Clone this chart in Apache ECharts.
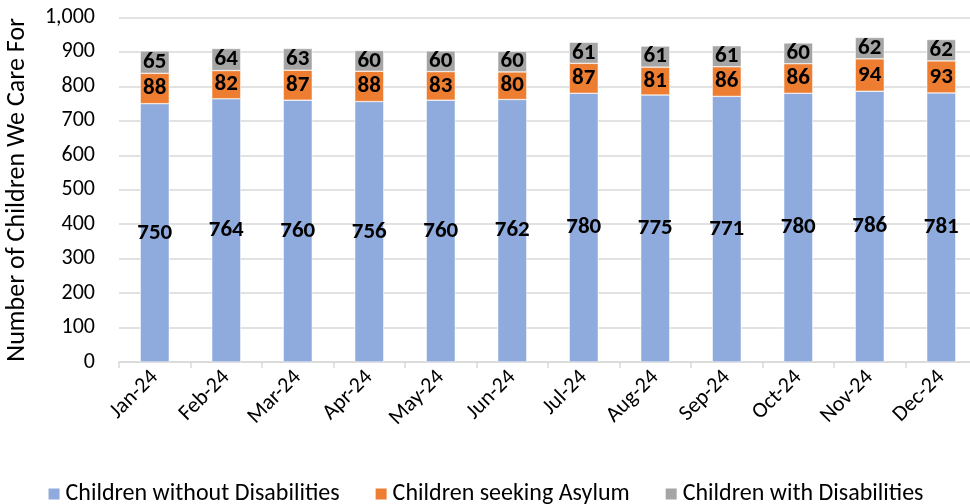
<!DOCTYPE html>
<html>
<head>
<meta charset="utf-8">
<script src="https://cdn.jsdelivr.net/npm/echarts@6/dist/echarts.min.js"></script>
<style>
  html, body { margin: 0; padding: 0; background: #fff; }
  #main { width: 970px; height: 504px; }
</style>
</head>
<body>
<div id="main"></div>
<script>
// months along the bottom
var months = ['Jan-24', 'Feb-24', 'Mar-24', 'Apr-24', 'May-24', 'Jun-24',
              'Jul-24', 'Aug-24', 'Sep-24', 'Oct-24', 'Nov-24', 'Dec-24'];

// stacked series
var withoutDisabilities = [750, 764, 760, 756, 760, 762, 780, 775, 771, 780, 786, 781];
var seekingAsylum = [88, 82, 87, 88, 83, 80, 87, 81, 86, 86, 94, 93];
var withDisabilities = [65, 64, 63, 60, 60, 60, 61, 61, 61, 60, 62, 62];

var FONT = 'Carlito, Lato, "Open Sans", sans-serif';

var myChart = echarts.init(document.getElementById('main'));

function stackSeries(name, data, color) {
    return {
        name: name,
        type: 'bar',
        stack: 'total',
        data: data,
        barWidth: 29,
        itemStyle: { color: color, borderColor: '#fff', borderWidth: 0.5 },
        label: {
            show: true,
            position: 'inside',
            color: '#000',
            fontWeight: 'bold',
            fontSize: 23,
            fontFamily: FONT
        }
    };
}

myChart.setOption({
    animation: false,
    textStyle: { fontFamily: FONT },
    grid: {
        left: 119, top: 17.5, width: 858, height: 344.5,
        containLabel: false, outerBoundsMode: 'none'
    },
    legend: {
        top: 477,
        left: 'center',
        itemWidth: 13,
        itemHeight: 13,
        itemGap: 34,
        icon: 'rect',
        textStyle: { fontSize: 24, color: '#000', fontFamily: FONT },
        data: ['Children without Disabilities', 'Children seeking Asylum', 'Children with Disabilities']
    },
    xAxis: {
        type: 'category',
        data: months,
        axisLine: { lineStyle: { color: '#d9d9d9', width: 1.5 } },
        axisTick: { show: true, length: 6, lineStyle: { color: '#d9d9d9', width: 1.5 } },
        axisLabel: { rotate: 45, fontSize: 22, color: '#000', margin: 12, fontFamily: FONT }
    },
    yAxis: {
        type: 'value',
        min: 0,
        max: 1000,
        interval: 100,
        name: 'Number of Children We Care For',
        nameLocation: 'middle',
        nameGap: 89,
        nameTextStyle: { fontSize: 26, color: '#000', fontFamily: FONT },
        axisLabel: {
            fontSize: 22,
            color: '#000',
            margin: 24,
            fontFamily: FONT,
            formatter: function (v) { return v >= 1000 ? '1,000' : String(v); }
        },
        splitLine: { lineStyle: { color: '#d9d9d9', width: 1.5 } }
    },
    series: [
        stackSeries('Children without Disabilities', withoutDisabilities, '#8faadc'),
        stackSeries('Children seeking Asylum', seekingAsylum, '#ed7d31'),
        stackSeries('Children with Disabilities', withDisabilities, '#a5a5a5')
    ]
});
</script>
</body>
</html>
